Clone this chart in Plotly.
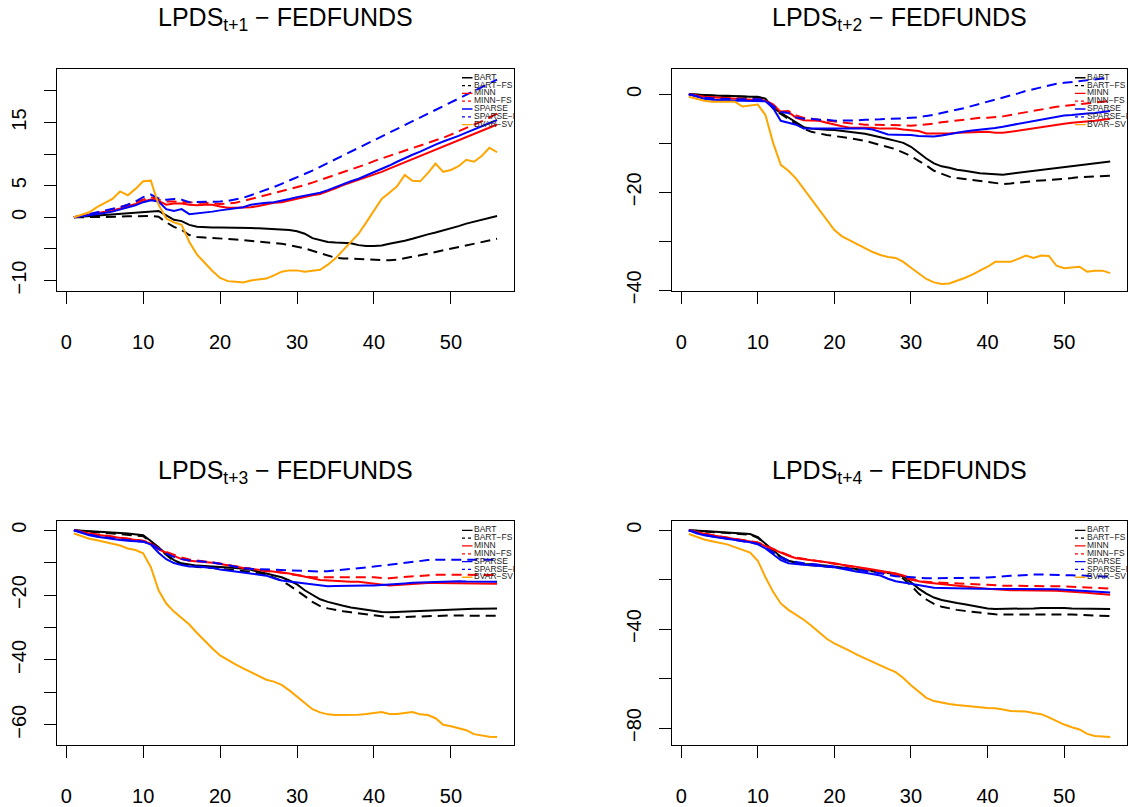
import plotly.graph_objects as go

# ---------------- data ----------------
x_vals = list(range(1, 57))
x_ticks = [0, 10, 20, 30, 40, 50]
series_names = ["BART", "BART\u2212FS", "MINN", "MINN\u2212FS", "SPARSE", "SPARSE\u2212FS", "BVAR\u2212SV"]
series_colors = ["black", "black", "red", "red", "blue", "blue", "orange"]
series_dashed = [False, True, False, True, False, True, False]
panel_titles = ["LPDS<sub>t+1</sub> \u2212 FEDFUNDS", "LPDS<sub>t+2</sub> \u2212 FEDFUNDS",
                "LPDS<sub>t+3</sub> \u2212 FEDFUNDS", "LPDS<sub>t+4</sub> \u2212 FEDFUNDS"]

# panel 1 (t+1)
p1_bart = [0.0, 0.1, 0.2, 0.3, 0.4, 0.5, 0.6, 0.7, 0.8, 0.9, 1.0, 1.0, 0.3, -0.4, -0.6, -1.2, -1.5, -1.6, -1.6, -1.6,
           -1.6, -1.6, -1.65, -1.7, -1.75, -1.8, -1.85, -1.9, -2.0, -2.2, -2.6, -3.3, -3.6, -3.9, -4.0, -4.1, -4.1, -4.4,
           -4.55, -4.55, -4.45, -4.2, -4.0, -3.7, -3.4, -3.0, -2.7, -2.4, -2.1, -1.7, -1.4, -1.0, -0.7, -0.4, -0.1, 0.2]
p1_bart_fs = [0.0, 0.0, 0.0, 0.05, 0.1, 0.1, 0.1, 0.15, 0.2, 0.2, 0.2, 0.1, -0.8, -1.5, -2.0, -2.8, -3.1, -3.2, -3.25,
              -3.3, -3.4, -3.5, -3.6, -3.7, -3.8, -3.9, -4.05, -4.2, -4.4, -4.6, -4.9, -5.3, -5.7, -6.0, -6.4, -6.5,
              -6.55, -6.6, -6.7, -6.8, -6.8, -6.8, -6.7, -6.5, -6.25, -6.0, -5.75, -5.5, -5.25, -5.0, -4.75, -4.5,
              -4.25, -4.0, -3.7, -3.4]
p1_minn = [0.0, 0.2, 0.4, 0.6, 0.85, 1.1, 1.4, 1.7, 2.1, 2.5, 2.8, 2.6, 2.0, 2.2, 2.2, 2.0, 1.9, 2.0, 2.0, 1.7, 1.5,
           1.5, 1.5, 1.6, 1.8, 2.1, 2.3, 2.4, 2.7, 3.0, 3.3, 3.5, 3.7, 4.1, 4.6, 5.1, 5.5, 6.0, 6.3, 6.7, 7.2, 7.7, 8.2,
           8.7, 9.2, 9.7, 10.2, 10.7, 11.2, 11.7, 12.2, 12.7, 13.2, 13.7, 14.2, 14.7]
p1_minn_fs = [0.0, 0.25, 0.5, 0.75, 1.0, 1.2, 1.6, 2.0, 2.4, 2.9, 3.2, 2.8, 2.5, 2.5, 2.4, 2.3, 2.3, 2.3, 2.2, 2.1, 2.2,
              2.3, 2.6, 2.9, 3.2, 3.5, 3.8, 4.1, 4.4, 4.7, 5.1, 5.5, 5.9, 6.3, 6.7, 7.1, 7.5, 8.0, 8.4, 8.9, 9.3, 9.7,
              10.1, 10.5, 10.9, 11.3, 11.8, 12.2, 12.6, 13.1, 13.6, 14.1, 14.6, 15.2, 15.8, 16.4]
p1_sparse = [0.0, 0.15, 0.3, 0.5, 0.7, 0.9, 1.2, 1.5, 1.9, 2.4, 2.7, 2.5, 1.3, 1.0, 1.3, 0.5, 0.6, 0.7, 0.9, 1.1, 1.3,
             1.5, 1.6, 2.0, 2.2, 2.3, 2.4, 2.6, 2.9, 3.2, 3.4, 3.6, 3.9, 4.3, 4.8, 5.3, 5.7, 6.1, 6.6, 7.1, 7.6, 8.2,
             8.8, 9.4, 9.9, 10.4, 11.0, 11.5, 12.0, 12.4, 12.9, 13.4, 13.9, 14.4, 14.9, 15.4]
p1_sparse_fs = [0.0, 0.25, 0.5, 0.8, 1.05, 1.3, 1.6, 2.0, 2.5, 3.2, 3.6, 3.0, 2.8, 2.9, 2.8, 2.4, 2.4, 2.5, 2.5, 2.5,
                2.6, 2.8, 3.1, 3.5, 3.9, 4.3, 4.8, 5.3, 5.8, 6.3, 6.8, 7.4, 8.0, 8.6, 9.2, 9.8, 10.4, 11.0, 11.6, 12.2,
                12.8, 13.4, 14.0, 14.6, 15.2, 15.8, 16.4, 17.0, 17.6, 18.2, 18.8, 19.4, 20.0, 20.6, 21.2, 21.8]
p1_bvar_sv = [0.0, 0.4, 0.8, 1.6, 2.3, 2.9, 4.1, 3.5, 4.5, 5.7, 5.8, 2.0, -0.2, -0.8, -1.2, -3.9, -5.9, -7.2, -8.5,
              -9.6, -10.1, -10.2, -10.3, -10.0, -9.9, -9.7, -9.2, -8.6, -8.4, -8.4, -8.6, -8.5, -8.3, -7.5, -6.5, -5.2,
              -3.9, -2.6, -0.8, 1.0, 2.9, 3.9, 4.9, 6.7, 5.8, 5.7, 7.0, 8.5, 7.2, 7.5, 8.1, 9.1, 8.8, 9.7, 11.0, 10.3]

# panel 2 (t+2)
p2_bart = [0.0, -0.1, -0.2, -0.2, -0.3, -0.3, -0.4, -0.4, -0.5, -0.5, -0.9, -2.8, -3.8, -4.8, -5.8, -6.7, -7.0, -7.2,
           -7.25, -7.3, -7.45, -7.6, -7.8, -8.05, -8.4, -8.7, -9.1, -9.5, -9.9, -10.7, -11.9, -13.1, -14.1, -14.7,
           -15.0, -15.4, -15.6, -15.9, -16.1, -16.2, -16.3, -16.4, -16.2, -16.0, -15.8, -15.6, -15.4, -15.2, -15.0,
           -14.8, -14.6, -14.4, -14.2, -14.1, -13.9, -13.7]
p2_bart_fs = [0.0, -0.1, -0.2, -0.3, -0.3, -0.4, -0.4, -0.5, -0.5, -0.6, -1.0, -2.9, -4.0, -5.0, -6.0, -7.0, -7.65,
              -8.0, -8.3, -8.5, -8.7, -8.9, -9.2, -9.5, -9.9, -10.3, -10.7, -11.2, -11.9, -12.6, -13.6, -14.5, -15.6,
              -16.2, -16.8, -17.1, -17.3, -17.5, -17.8, -18.0, -18.1, -18.3, -18.2, -18.0, -17.8, -17.7, -17.6, -17.5,
              -17.3, -17.2, -17.1, -16.9, -16.8, -16.7, -16.6, -16.6]
p2_minn = [0.0, -0.3, -0.5, -0.6, -0.7, -0.8, -0.9, -1.0, -1.0, -1.1, -1.3, -2.1, -3.6, -3.6, -4.8, -5.3, -5.4, -5.4,
           -5.8, -6.2, -6.5, -6.8, -6.8, -6.8, -6.8, -7.0, -7.0, -7.0, -7.2, -7.3, -7.5, -8.0, -8.05, -8.05, -8.0,
           -7.85, -7.8, -7.7, -7.65, -7.65, -7.85, -7.85, -7.65, -7.4, -7.2, -6.9, -6.7, -6.4, -6.2, -6.0, -5.8,
           -5.7, -5.6, -5.4, -5.2, -5.0]
p2_minn_fs = [0.0, -0.3, -0.5, -0.6, -0.7, -0.8, -0.9, -0.9, -1.0, -1.0, -1.2, -2.1, -3.5, -3.4, -4.3, -4.8, -5.0,
              -5.2, -5.4, -5.6, -5.7, -5.9, -6.0, -6.2, -6.2, -6.2, -6.25, -6.3, -6.3, -6.4, -6.3, -6.2, -6.0, -5.7,
              -5.5, -5.3, -5.2, -5.0, -4.8, -4.8, -4.7, -4.5, -4.2, -3.9, -3.6, -3.4, -3.0, -2.8, -2.55, -2.35,
              -2.15, -2.0, -1.8, -1.6, -1.5, -1.35]
p2_sparse = [0.0, -0.5, -0.9, -1.1, -1.2, -1.3, -1.3, -1.3, -1.3, -1.3, -1.4, -2.8, -5.4, -5.8, -6.2, -7.0, -7.0,
             -7.0, -7.0, -7.0, -6.9, -6.85, -6.85, -7.0, -7.2, -7.65, -8.2, -8.25, -8.25, -8.3, -8.5, -8.6, -8.6,
             -8.4, -8.1, -7.85, -7.6, -7.4, -7.25, -7.05, -6.85, -6.6, -6.3, -6.0, -5.8, -5.5, -5.2, -4.8, -4.5,
             -4.3, -4.2, -4.0, -3.9, -3.8, -3.6, -3.4]
p2_sparse_fs = [0.0, -0.4, -0.7, -0.8, -0.9, -0.9, -1.0, -1.0, -1.0, -1.0, -1.2, -2.5, -3.6, -3.8, -4.7, -5.0, -5.0,
                -5.2, -5.2, -5.4, -5.4, -5.4, -5.3, -5.2, -5.2, -5.1, -5.0, -5.0, -4.9, -4.8, -4.7, -4.4, -4.2, -3.8,
                -3.5, -3.2, -2.8, -2.35, -1.95, -1.5, -1.1, -0.6, -0.2, 0.2, 0.7, 1.1, 1.5, 1.8, 2.15, 2.35, 2.55,
                2.75, 2.9, 3.1, 3.2, 3.4]
p2_bvar_sv = [-0.5, -0.9, -1.3, -1.5, -1.5, -1.5, -1.5, -2.5, -2.3, -2.1, -4.2, -9.9, -14.4, -15.6, -17.2, -19.3,
              -21.6, -23.6, -25.6, -27.7, -29.0, -29.8, -30.7, -31.4, -32.2, -32.8, -33.2, -33.4, -34.2, -35.4, -36.5,
              -37.7, -38.4, -38.7, -38.6, -38.1, -37.5, -36.8, -36.0, -35.2, -34.2, -34.2, -34.2, -33.6, -32.9, -33.4,
              -32.9, -33.0, -35.0, -35.5, -35.4, -35.2, -36.2, -36.0, -36.0, -36.5]

# panel 3 (t+3)
p3_bart = [0.0, -0.1, -0.2, -0.3, -0.5, -0.6, -0.8, -1.0, -1.2, -1.5, -3.3, -5.2, -7.4, -9.2, -10.2, -10.6, -10.9,
           -11.0, -11.1, -11.2, -11.4, -11.6, -11.9, -12.2, -12.8, -13.3, -13.8, -14.5, -15.5, -16.7, -18.5, -20.0,
           -21.3, -22.1, -22.8, -23.3, -23.8, -24.2, -24.6, -24.9, -25.2, -25.3, -25.2, -25.1, -24.9, -24.8, -24.6,
           -24.5, -24.4, -24.3, -24.3, -24.2, -24.2, -24.2, -24.1, -24.1]
p3_bart_fs = [0.0, -0.2, -0.3, -0.5, -0.7, -0.9, -1.1, -1.3, -1.5, -1.8, -3.6, -5.5, -7.6, -9.5, -10.5, -11.0, -11.3,
              -11.4, -11.6, -11.8, -12.0, -12.2, -12.5, -12.8, -13.3, -13.8, -14.6, -15.6, -17.0, -18.6, -20.3, -22.1,
              -23.4, -24.1, -24.6, -25.0, -25.3, -25.6, -25.9, -26.2, -26.5, -26.8, -26.8, -26.7, -26.6, -26.5, -26.4,
              -26.3, -26.3, -26.3, -26.3, -26.4, -26.4, -26.4, -26.4, -26.4]
p3_minn = [0.0, -0.6, -1.0, -1.4, -1.7, -2.0, -2.3, -2.6, -3.0, -3.3, -4.1, -5.9, -6.9, -7.9, -8.9, -9.4, -9.6, -9.7,
           -10.0, -10.4, -10.9, -11.2, -11.6, -11.9, -12.2, -12.4, -12.7, -12.9, -13.3, -13.8, -14.2, -14.8, -15.3,
           -15.5, -15.5, -15.7, -15.9, -15.9, -16.2, -16.5, -16.7, -17.0, -16.9, -16.7, -16.5, -16.4, -16.3, -16.3,
           -16.3, -16.3, -16.4, -16.4, -16.5, -16.5, -16.5, -16.5]
p3_minn_fs = [0.0, -0.5, -0.9, -1.3, -1.6, -1.9, -2.2, -2.5, -2.9, -3.2, -4.0, -5.6, -6.7, -7.6, -8.4, -9.0, -9.3,
              -9.5, -9.8, -10.2, -10.7, -11.1, -11.5, -11.8, -12.1, -12.6, -12.8, -13.0, -13.5, -13.9, -14.2, -14.5,
              -14.5, -14.5, -14.5, -14.5, -14.4, -14.4, -14.4, -14.5, -14.7, -14.8, -14.6, -14.4, -14.1, -13.9, -13.8,
              -13.7, -13.7, -13.7, -13.7, -13.7, -13.8, -13.8, -13.8, -13.8]
p3_sparse = [0.0, -0.8, -1.5, -2.0, -2.4, -2.7, -3.0, -3.2, -3.4, -3.5, -4.4, -6.9, -8.9, -10.1, -10.7, -11.2, -11.2,
             -11.4, -11.6, -12.1, -12.4, -12.8, -13.1, -13.3, -13.5, -14.0, -14.8, -15.5, -15.8, -16.1, -16.5, -16.9,
             -17.2, -17.3, -17.2, -17.1, -17.1, -17.1, -17.0, -17.0, -16.9, -16.8, -16.6, -16.4, -16.2, -16.1, -15.9,
             -15.8, -15.7, -15.7, -15.7, -15.8, -15.8, -15.9, -15.9, -15.9]
p3_sparse_fs = [0.0, -0.7, -1.3, -1.8, -2.2, -2.5, -2.8, -3.0, -3.3, -3.5, -4.2, -5.8, -7.2, -8.2, -8.9, -9.3, -9.5,
                -9.6, -9.9, -10.3, -10.8, -11.4, -11.7, -11.9, -12.0, -11.9, -12.0, -12.2, -12.3, -12.5, -12.6, -12.7,
                -12.7, -12.6, -12.4, -12.2, -11.9, -11.6, -11.4, -11.2, -10.9, -10.6, -10.2, -9.9, -9.6, -9.4, -9.2,
                -9.1, -9.1, -9.0, -9.0, -9.0, -9.0, -9.1, -9.1, -9.1]
p3_bvar_sv = [-1.0, -1.8, -2.6, -3.1, -3.6, -4.0, -4.7, -5.6, -6.1, -7.1, -11.4, -18.5, -22.6, -25.1, -27.1, -29.1,
              -31.7, -34.2, -36.5, -38.6, -40.1, -41.4, -42.6, -43.8, -45.0, -46.1, -46.7, -47.7, -49.4, -51.4, -53.4,
              -55.2, -56.2, -56.8, -57.0, -57.0, -57.0, -56.9, -56.7, -56.4, -56.1, -56.7, -56.7, -56.4, -56.1, -56.8,
              -57.0, -58.0, -60.0, -60.5, -61.0, -61.7, -62.9, -63.4, -63.7, -63.8]

# panel 4 (t+4)
p4_bart = [0.0, -0.1, -0.3, -0.5, -0.7, -0.9, -1.1, -1.3, -1.5, -2.8, -5.4, -8.1, -10.7, -12.3, -13.1, -13.7, -13.7,
           -13.9, -14.3, -14.7, -15.0, -15.3, -15.6, -15.9, -16.3, -16.7, -17.1, -17.6, -18.7, -21.0, -23.6, -25.6,
           -27.2, -28.2, -28.9, -29.4, -29.9, -30.5, -31.0, -31.6, -31.8, -31.8, -31.8, -31.8, -31.7, -31.6, -31.4,
           -31.3, -31.3, -31.4, -31.6, -31.7, -31.8, -31.8, -31.8, -31.8]
p4_bart_fs = [0.0, -0.2, -0.4, -0.7, -0.9, -1.1, -1.3, -1.5, -1.8, -3.0, -5.7, -8.4, -11.0, -12.6, -13.4, -14.0, -14.1,
              -14.3, -14.6, -15.0, -15.3, -15.6, -15.9, -16.2, -16.6, -16.9, -17.3, -17.8, -19.6, -22.3, -25.6, -28.0,
              -29.8, -30.9, -31.7, -32.2, -32.6, -33.0, -33.4, -33.7, -34.0, -34.1, -34.1, -34.1, -34.1, -34.0, -34.0,
              -33.8, -33.8, -34.0, -34.1, -34.2, -34.4, -34.5, -34.6, -34.7]
p4_minn = [0.0, -0.8, -1.4, -2.0, -2.5, -3.0, -3.5, -4.0, -4.6, -5.0, -6.4, -7.7, -9.3, -10.3, -11.3, -11.7, -12.1,
           -12.3, -12.7, -13.3, -13.9, -14.3, -14.7, -15.3, -15.9, -16.4, -17.0, -17.5, -18.3, -19.6, -20.6, -21.1,
           -21.4, -21.6, -21.9, -22.1, -22.4, -22.9, -23.3, -23.7, -24.0, -24.3, -24.3, -24.3, -24.3, -24.3, -24.4,
           -24.4, -24.5, -24.7, -24.8, -25.1, -25.3, -25.6, -25.9, -26.1]
p4_minn_fs = [0.0, -0.7, -1.3, -1.9, -2.4, -2.9, -3.4, -3.9, -4.4, -4.9, -6.2, -7.5, -9.0, -10.1, -11.0, -11.5, -12.0,
              -12.4, -12.9, -13.4, -13.9, -14.4, -15.0, -15.6, -16.3, -17.0, -17.5, -18.0, -19.0, -20.0, -20.6, -21.0,
              -21.1, -21.2, -21.4, -21.5, -21.6, -21.8, -21.9, -22.0, -22.3, -22.4, -22.4, -22.4, -22.4, -22.4, -22.5,
              -22.5, -22.7, -22.7, -22.8, -22.9, -23.1, -23.2, -23.3, -23.6]
p4_sparse = [0.0, -1.2, -2.0, -2.6, -3.0, -3.4, -3.8, -4.3, -4.8, -5.7, -7.3, -9.7, -12.1, -13.3, -13.7, -13.9, -14.1,
             -14.3, -14.6, -15.0, -15.6, -16.3, -16.8, -17.2, -17.6, -18.3, -19.6, -20.6, -21.1, -21.6, -22.1, -22.5,
             -23.2, -23.3, -23.3, -23.3, -23.3, -23.5, -23.6, -23.7, -23.7, -23.7, -23.7, -23.6, -23.6, -23.6, -23.6,
             -23.7, -23.9, -24.1, -24.3, -24.5, -24.7, -24.9, -25.1, -25.2]
p4_sparse_fs = [0.0, -1.0, -1.8, -2.4, -2.9, -3.3, -3.7, -4.2, -4.7, -5.4, -7.0, -9.0, -11.0, -12.3, -12.9, -13.3,
                -13.6, -13.9, -14.2, -14.6, -15.1, -15.6, -16.0, -16.4, -16.8, -17.4, -18.0, -18.6, -18.7, -19.0, -19.2,
                -19.4, -19.4, -19.4, -19.5, -19.5, -19.4, -19.4, -19.2, -19.1, -18.8, -18.7, -18.4, -18.3, -18.0, -17.9,
                -17.9, -17.9, -17.9, -18.0, -18.2, -18.3, -18.4, -18.6, -18.7, -18.8]
p4_bvar_sv = [-1.5, -2.7, -3.7, -4.4, -5.0, -5.7, -6.8, -8.0, -9.0, -12.3, -19.0, -24.9, -29.6, -32.2, -34.2, -36.2,
              -38.6, -41.2, -43.9, -45.8, -47.2, -48.8, -50.4, -51.9, -53.4, -54.8, -56.1, -57.4, -59.8, -62.7, -65.4,
              -67.8, -69.1, -69.8, -70.3, -70.7, -71.1, -71.4, -71.6, -71.9, -72.0, -72.5, -73.1, -73.2, -73.3, -73.9,
              -74.4, -75.7, -77.3, -78.6, -79.7, -80.6, -82.4, -83.2, -83.4, -83.6]

panel_series = [
    [p1_bart, p1_bart_fs, p1_minn, p1_minn_fs, p1_sparse, p1_sparse_fs, p1_bvar_sv],
    [p2_bart, p2_bart_fs, p2_minn, p2_minn_fs, p2_sparse, p2_sparse_fs, p2_bvar_sv],
    [p3_bart, p3_bart_fs, p3_minn, p3_minn_fs, p3_sparse, p3_sparse_fs, p3_bvar_sv],
    [p4_bart, p4_bart_fs, p4_minn, p4_minn_fs, p4_sparse, p4_sparse_fs, p4_bvar_sv],
]
# labelled y ticks and the extra unlabelled ones (R drops labels that would overlap)
y_label_vals = [[-10, 0, 5, 15], [-40, -20, 0], [-60, -40, -20, 0], [-80, -40, 0]]
y_extra_ticks = [[-5, 10, 20], [-30, -10], [-50, -30, -10], [-60, -20]]

# ---------------- layout geometry (pixels) ----------------
W, H = 1130, 807
FONT = "Liberation Sans, Arial, Helvetica, sans-serif"
boxes = [(57, 514, 70, 296), (672, 1127, 70, 296), (57, 514, 530, 757), (672, 1127, 530, 757)]
y_ranges = [[-11.7, 23.5], [-40.2, 5.2], [-66.2, 2.73], [-86.8, 3.58]]
x_range = [-1.2, 58.2]


def fmt(v):
    return ("\u2212" + str(-v)) if v < 0 else str(v)


fig = go.Figure()
layout = dict(width=W, height=H, margin=dict(l=0, r=0, t=0, b=0),
              paper_bgcolor="white", plot_bgcolor="rgba(0,0,0,0)", showlegend=False,
              font=dict(family=FONT, color="black"))
annotations = []

for k in range(4):
    L, R, T, B = boxes[k]
    xa = "x" if k == 0 else f"x{k + 1}"
    ya = "y" if k == 0 else f"y{k + 1}"
    for name, ys, col, dashed in zip(series_names, panel_series[k], series_colors, series_dashed):
        fig.add_trace(go.Scatter(x=x_vals, y=ys, mode="lines", name=name,
                                 line=dict(color=col, width=2, dash="10px,6px" if dashed else "solid"),
                                 xaxis=xa, yaxis=ya, hoverinfo="skip", showlegend=False))
    dom_x = [L / W, R / W]
    dom_y = [1 - B / H, 1 - T / H]
    axis_common = dict(showline=True, linecolor="black", linewidth=1, mirror=True, showgrid=False,
                       zeroline=False, ticks="outside", ticklen=12, tickwidth=1, tickcolor="black",
                       tickfont=dict(size=20, color="black", family=FONT), fixedrange=True)
    layout["xaxis" if k == 0 else f"xaxis{k + 1}"] = dict(
        axis_common, domain=dom_x, range=x_range, tickmode="array", tickvals=x_ticks,
        ticktext=[str(v) for v in x_ticks], anchor=ya, ticklabelstandoff=21)
    layout["yaxis" if k == 0 else f"yaxis{k + 1}"] = dict(
        axis_common, domain=dom_y, range=y_ranges[k], tickmode="array", tickvals=y_label_vals[k],
        ticktext=[fmt(v) for v in y_label_vals[k]], tickangle=-90, anchor=xa, ticklabelstandoff=10,
        minor=dict(tickmode="array", tickvals=y_extra_ticks[k], ticks="outside", ticklen=12, tickwidth=1,
                   tickcolor="black", showgrid=False))

    # per-panel legend drawn on an invisible overlay axis in pixel units (clipped at the box)
    lx = f"x{k + 5}"
    ly = f"y{k + 5}"
    layout[f"xaxis{k + 5}"] = dict(domain=dom_x, range=[L, R], visible=False, anchor=ly, fixedrange=True)
    layout[f"yaxis{k + 5}"] = dict(domain=dom_y, range=[B, T], visible=False, anchor=lx, fixedrange=True)
    rows = [T + 9 + 7.95 * i for i in range(len(series_names))]
    for i, (col, dashed) in enumerate(zip(series_colors, series_dashed)):
        fig.add_trace(go.Scatter(x=[R - 52, R - 41.5], y=[rows[i], rows[i]], mode="lines",
                                 line=dict(color=col, width=1.3, dash="3px,3px" if dashed else "solid"),
                                 xaxis=lx, yaxis=ly, hoverinfo="skip", showlegend=False))
    fig.add_trace(go.Scatter(x=[R - 40] * len(series_names), y=rows, mode="text", text=series_names,
                             textposition="middle right", cliponaxis=True,
                             textfont=dict(size=8.5, color="#222222", family=FONT),
                             xaxis=lx, yaxis=ly, hoverinfo="skip", showlegend=False))

    annotations.append(dict(text=panel_titles[k], xref="paper", yref="paper",
                            x=(L + R) / 2 / W, y=1 - (T - 69) / H, xanchor="center", yanchor="top",
                            showarrow=False, font=dict(size=25, color="black", family=FONT)))

layout["annotations"] = annotations
fig.update_layout(**layout)
# remove the browser's default 8px body margin so the figure sits at the window origin; no mode bar
fig.write_html("out.html", config={"displayModeBar": False, "staticPlot": True},
               post_script="document.body.style.margin='0px';")
